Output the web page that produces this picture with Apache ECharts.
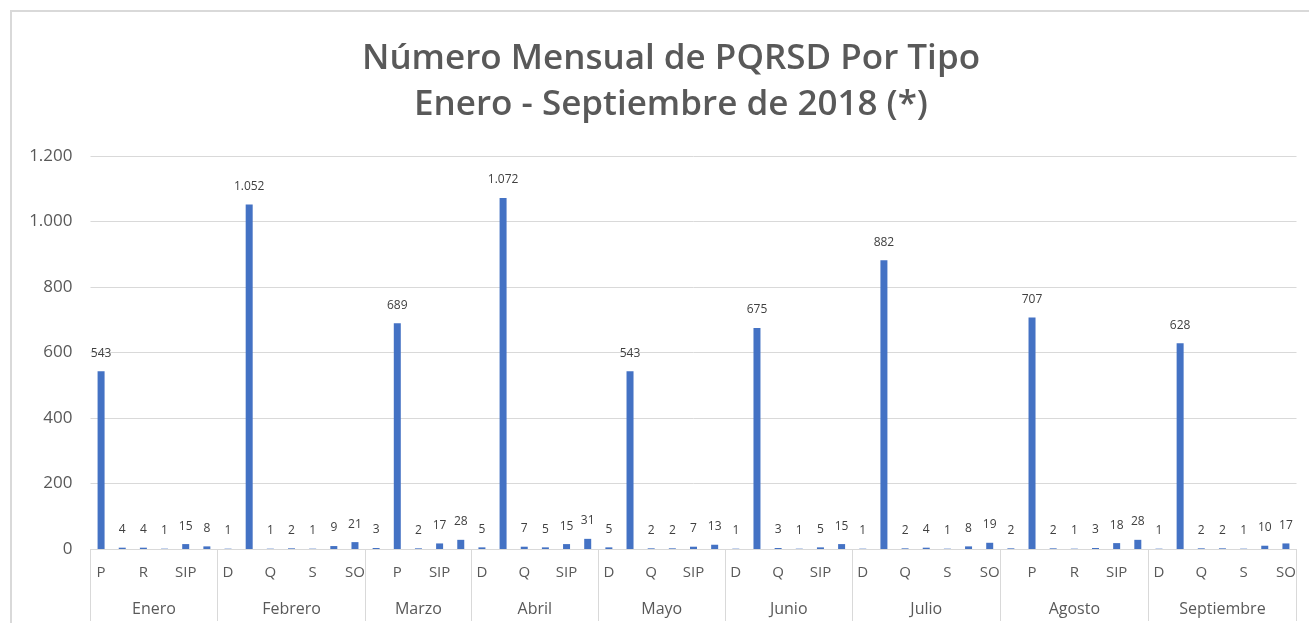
<!DOCTYPE html>
<html>
<head>
<meta charset="utf-8">
<script src="https://cdn.jsdelivr.net/npm/echarts@6/dist/echarts.min.js"></script>
<style>
  html, body { margin: 0; padding: 0; background: #ffffff; }
  #chart { width: 1309px; height: 623px; }
</style>
</head>
<body>
<div id="chart"></div>
<script>
// Sub-category (tipo) labels per month, in order
const months = ['Enero', 'Febrero', 'Marzo', 'Abril', 'Mayo', 'Junio', 'Julio', 'Agosto', 'Septiembre'];
const tiposEnero      = ['P', 'Q', 'R', 'S', 'SIP', 'SO'];
const tiposFebrero    = ['D', 'P', 'Q', 'R', 'S', 'SIP', 'SO'];
const tiposMarzo      = ['D', 'P', 'Q', 'SIP', 'SO'];
const tiposAbril      = ['D', 'P', 'Q', 'R', 'SIP', 'SO'];
const tiposMayo       = ['D', 'P', 'Q', 'R', 'SIP', 'SO'];
const tiposJunio      = ['D', 'P', 'Q', 'R', 'SIP', 'SO'];
const tiposJulio      = ['D', 'P', 'Q', 'R', 'S', 'SIP', 'SO'];
const tiposAgosto     = ['D', 'P', 'Q', 'R', 'S', 'SIP', 'SO'];
const tiposSeptiembre = ['D', 'P', 'Q', 'R', 'S', 'SIP', 'SO'];

// Values per month
const valEnero      = [543, 4, 4, 1, 15, 8];
const valFebrero    = [1, 1052, 1, 2, 1, 9, 21];
const valMarzo      = [3, 689, 2, 17, 28];
const valAbril      = [5, 1072, 7, 5, 15, 31];
const valMayo       = [5, 543, 2, 2, 7, 13];
const valJunio      = [1, 675, 3, 1, 5, 15];
const valJulio      = [1, 882, 2, 4, 1, 8, 19];
const valAgosto     = [2, 707, 2, 1, 3, 18, 28];
const valSeptiembre = [1, 628, 2, 2, 1, 10, 17];

const yTicks = [0, 200, 400, 600, 800, 1000, 1200];

const tiposByMonth = [tiposEnero, tiposFebrero, tiposMarzo, tiposAbril, tiposMayo, tiposJunio, tiposJulio, tiposAgosto, tiposSeptiembre];
const valsByMonth = [valEnero, valFebrero, valMarzo, valAbril, valMayo, valJunio, valJulio, valAgosto, valSeptiembre];

const categories = [];
const values = [];
const boundaries = [0];
const centers = [];
tiposByMonth.forEach((t, i) => {
  const start = categories.length;
  t.forEach((c, j) => { categories.push(c); values.push(valsByMonth[i][j]); });
  const end = categories.length;
  boundaries.push(end);
  centers.push((start + end) / 2);
});
const total = categories.length;

function fmt(v) {
  return String(v).replace(/\B(?=(\d{3})+(?!\d))/g, '.');
}

const chart = echarts.init(document.getElementById('chart'), null, { renderer: 'canvas' });
chart.setOption({
  backgroundColor: '#ffffff',
  animation: false,
  title: {
    text: 'Número Mensual de PQRSD Por Tipo\nEnero - Septiembre de 2018 (*)',
    left: 666,
    textAlign: 'center',
    top: 31,
    textStyle: {
      fontFamily: 'Open Sans',
      fontWeight: 600,
      fontSize: 35,
      lineHeight: 46,
      color: '#595959'
    }
  },
  graphic: [
    {
      type: 'polyline',
      shape: { points: [[11, 623], [11, 11], [1309, 11]] },
      style: { stroke: '#d9d9d9', lineWidth: 2, fill: null },
      silent: true
    }
  ],
  grid: { left: 90.5, right: 12.5, top: 156, bottom: 74 },
  xAxis: [
    {
      type: 'category',
      data: categories,
      position: 'bottom',
      axisLine: { show: true, lineStyle: { color: '#d9d9d9', width: 1 } },
      axisTick: { show: false },
      axisLabel: {
        interval: 1,
        margin: 16,
        color: '#595959',
        fontFamily: 'Open Sans',
        fontSize: 15
      },
      splitLine: { show: false }
    },
    {
      type: 'value',
      min: 0,
      max: total,
      position: 'bottom',
      axisLine: { show: false },
      splitLine: { show: false },
      axisTick: {
        show: true,
        customValues: boundaries,
        length: 72,
        lineStyle: { color: '#d9d9d9', width: 1 }
      },
      axisLabel: {
        show: true,
        customValues: centers,
        margin: 52,
        color: '#595959',
        fontFamily: 'Open Sans',
        fontSize: 16,
        formatter: function (v) {
          const idx = centers.findIndex(c => Math.abs(c - v) < 1e-6);
          return idx >= 0 ? months[idx] : '';
        }
      }
    }
  ],
  yAxis: {
    type: 'value',
    min: yTicks[0],
    max: yTicks[yTicks.length - 1],
    interval: 200,
    axisLine: { show: false },
    axisTick: { show: false },
    axisLabel: {
      margin: 18,
      color: '#595959',
      fontFamily: 'Open Sans',
      fontSize: 17,
      formatter: fmt
    },
    splitLine: { lineStyle: { color: '#d9d9d9', width: 1 } }
  },
  series: [
    {
      type: 'bar',
      xAxisIndex: 0,
      data: values,
      barWidth: 7,
      itemStyle: { color: '#4472C4' },
      label: {
        show: true,
        position: 'top',
        distance: 12,
        color: '#404040',
        fontFamily: 'Open Sans',
        fontSize: 12,
        formatter: p => fmt(p.value)
      }
    }
  ]
});
</script>
</body>
</html>
